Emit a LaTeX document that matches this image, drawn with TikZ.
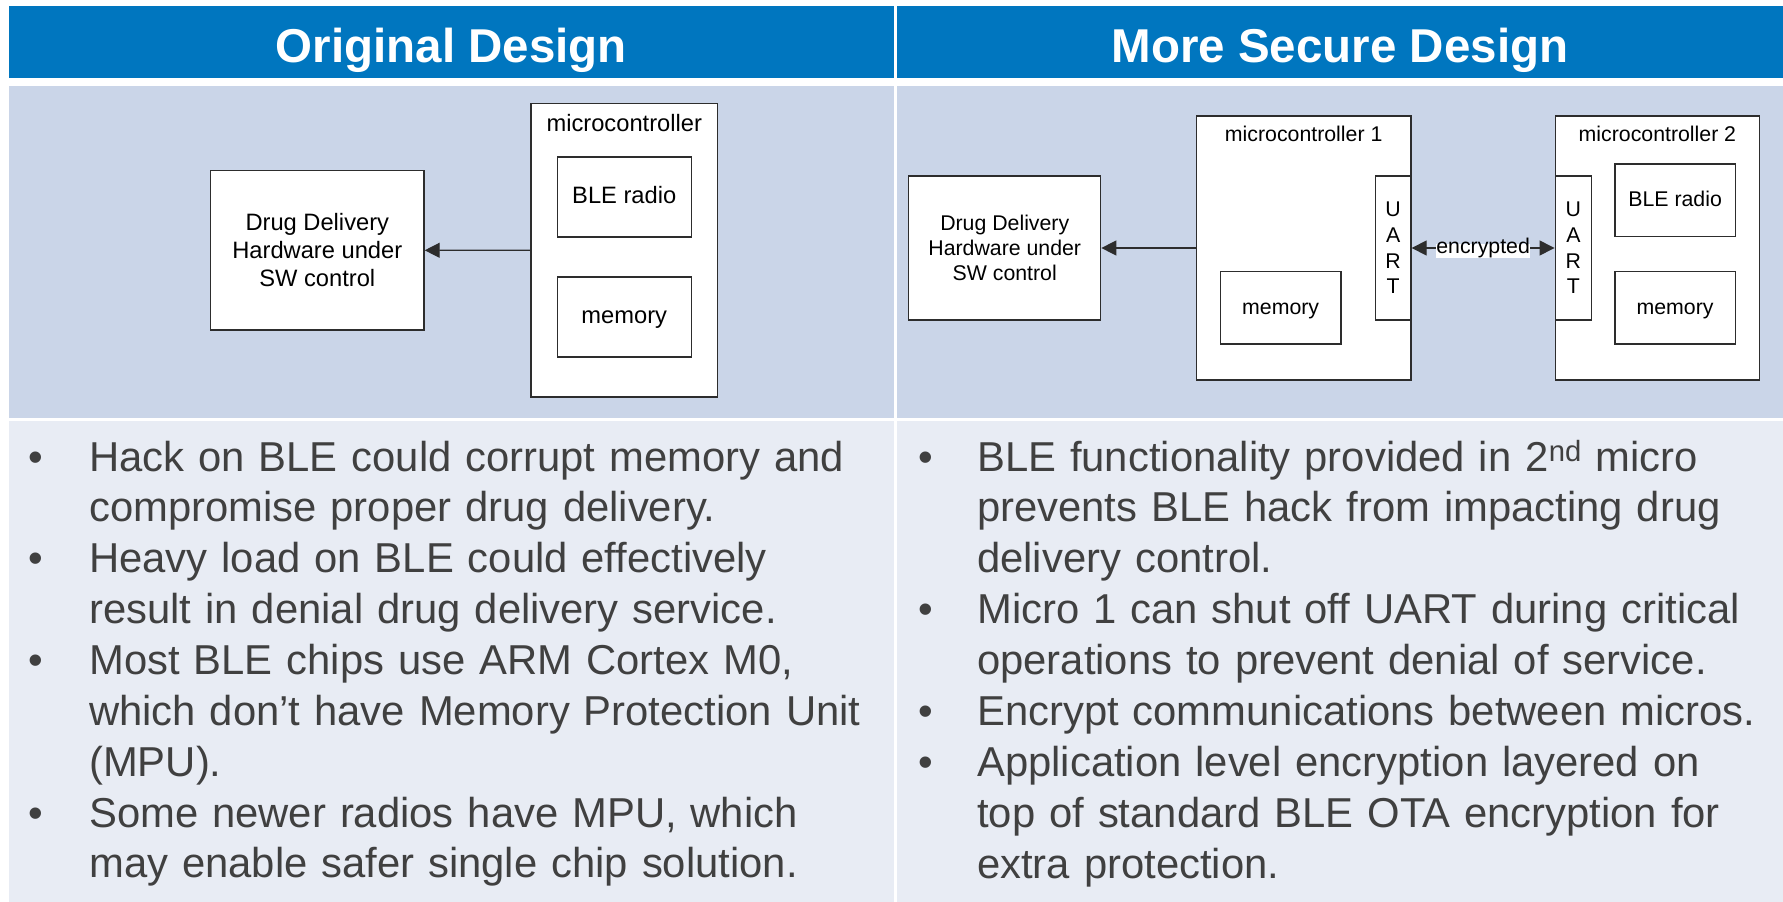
\documentclass[tikz,border=0pt]{standalone}
\usepackage{fontspec}
\setmainfont{Liberation Sans}
\usetikzlibrary{arrows.meta}

\definecolor{hdrblue}{RGB}{0,118,191}
\definecolor{panelA}{RGB}{202,213,232}
\definecolor{panelB}{RGB}{232,236,244}
\definecolor{bodygray}{RGB}{64,64,64}
\definecolor{edgegray}{RGB}{45,45,45}

\newcommand\fsz[2]{\fontsize{#1pt}{#2pt}\selectfont}

\begin{document}
\begin{tikzpicture}[x=1pt,y=-1pt,
  hdr/.style={font=\bfseries\fsz{47.5}{57}, text=white, anchor=base, inner sep=0pt},
  blk/.style={draw=edgegray, fill=white, line width=1.3pt, inner sep=0pt, align=center},
  blkL/.style={blk, font=\fsz{23.7}{28}},
  blkR/.style={blk, font=\fsz{21.3}{25.3}},
  oneline/.style={text height=1.25em, text depth=0pt},
  capL/.style={font=\fsz{23.7}{28}, anchor=base, inner sep=0pt},
  capR/.style={font=\fsz{21.3}{25.3}, anchor=base, inner sep=0pt},
  link/.style={draw=edgegray, line width=1.3pt},
  tip/.style={-{Triangle[length=15pt,width=15pt]}},
  twotip/.style={{Triangle[length=15pt,width=15pt]}-{Triangle[length=15pt,width=15pt]}},
  lbl/.style={fill=white, font=\fsz{21.3}{25.3}, inner xsep=0.5pt, inner ysep=2.5pt,
              text height=0.72em, text depth=0.21em, yshift=-3pt},
  dot/.style={font=\fsz{41.8}{50.875}, text=bodygray, anchor=base west, inner sep=0pt},
  btxt/.style={font=\fsz{41.8}{50.875}, text=bodygray, anchor=base west, inner sep=0pt,
               text width=850pt, align=left}
]
\useasboundingbox (0,0) rectangle (1783,902);

% table background
\fill[hdrblue] (9,6) rectangle (894,77.7);
\fill[hdrblue] (897,6) rectangle (1783,77.7);
\fill[panelA] (9,86) rectangle (894,418);
\fill[panelA] (897,86) rectangle (1783,418);
\fill[panelB] (9,420.7) rectangle (894,902);
\fill[panelB] (897,420.7) rectangle (1783,902);

% column titles
\node[hdr] (titleL) at (451.5,62) {Original Design};
\node[hdr] (titleR) at (1340,62) {More Secure Design};

% ---- original design ----
\node[blkL, minimum width=213.5pt, minimum height=159.4pt] (ddL) at (317.3,250.3)
  {Drug Delivery\\Hardware under\\SW control};
\node[blkL, minimum width=186.5pt, minimum height=293.5pt] (mcL) at (624.25,250.25) {};
\node[capL] (mcLcap) at (624.25,131.7) {microcontroller};
\node[blkL, oneline, minimum width=134pt, minimum height=80pt] (bleL) at (624.25,197) {BLE radio};
\node[blkL, oneline, minimum width=134pt, minimum height=80pt] (memL) at (624.25,317) {memory};
\draw[link, tip] (mcL.west) -- (ddL.east);

% ---- more secure design ----
\node[blkR, minimum width=191.9pt, minimum height=144pt] (ddR) at (1004.75,248)
  {Drug Delivery\\Hardware under\\SW control};
\node[blkR, minimum width=214.6pt, minimum height=264pt] (mcA) at (1303.7,248) {};
\node[capR] (mcAcap) at (1303.7,141.7) {microcontroller 1};
\node[blkR, font=\fsz{21.3}{25.7}, minimum width=35.8pt, minimum height=144pt] (uartA) at (1393.1,248)
  {U\\A\\R\\T};
\node[blkR, oneline, minimum width=120.7pt, minimum height=72.3pt] (memA) at (1280.65,307.85) {memory};

\node[blkR, minimum width=204.4pt, minimum height=264pt] (mcB) at (1657.4,248) {};
\node[capR] (mcBcap) at (1657.4,141.7) {microcontroller 2};
\node[blkR, font=\fsz{21.3}{25.7}, minimum width=36.4pt, minimum height=144pt] (uartB) at (1573.4,248)
  {U\\A\\R\\T};
\node[blkR, oneline, minimum width=120.2pt, minimum height=72.3pt] (bleB) at (1675.1,200.15) {BLE radio};
\node[blkR, oneline, minimum width=120.2pt, minimum height=72.3pt] (memB) at (1675.1,307.85) {memory};

\draw[link, tip] (mcA.west) -- (ddR.east);
\draw[link, twotip] (uartA.east) -- node[lbl] (enc) {encrypted} (uartB.west);

% ---- bullet lists ----
\node[dot] (bL1) at (28.3,471) {•};
\node[btxt] (tL1) at (89,471) {Hack on BLE could corrupt memory and\\compromise proper drug delivery.};
\node[dot] (bL2) at (28.3,572.75) {•};
\node[btxt] (tL2) at (89,572.75) {Heavy load on BLE could effectively\\result in denial drug delivery service.};
\node[dot] (bL3) at (28.3,674.5) {•};
\node[btxt] (tL3) at (89,674.5) {Most BLE chips use ARM Cortex M0,\\which don’t have Memory Protection Unit\\(MPU).};
\node[dot] (bL4) at (28.3,827.1) {•};
\node[btxt] (tL4) at (89,827.1) {Some newer radios have MPU, which\\may enable safer single chip solution.};

\node[dot] (bR1) at (918,471) {•};
\node[btxt] (tR1) at (977,471) {BLE functionality provided in 2\textsuperscript{nd} micro\\prevents BLE hack from impacting drug\\delivery control.};
\node[dot] (bR2) at (918,623.6) {•};
\node[btxt] (tR2) at (977,623.6) {Micro 1 can shut off UART during critical\\operations to prevent denial of service.};
\node[dot] (bR3) at (918,725.4) {•};
\node[btxt] (tR3) at (977,725.4) {Encrypt communications between micros.};
\node[dot] (bR4) at (918,776.25) {•};
\node[btxt] (tR4) at (977,776.25) {Application level encryption layered on\\top of standard BLE OTA encryption for\\extra protection.};
\end{tikzpicture}
\end{document}
